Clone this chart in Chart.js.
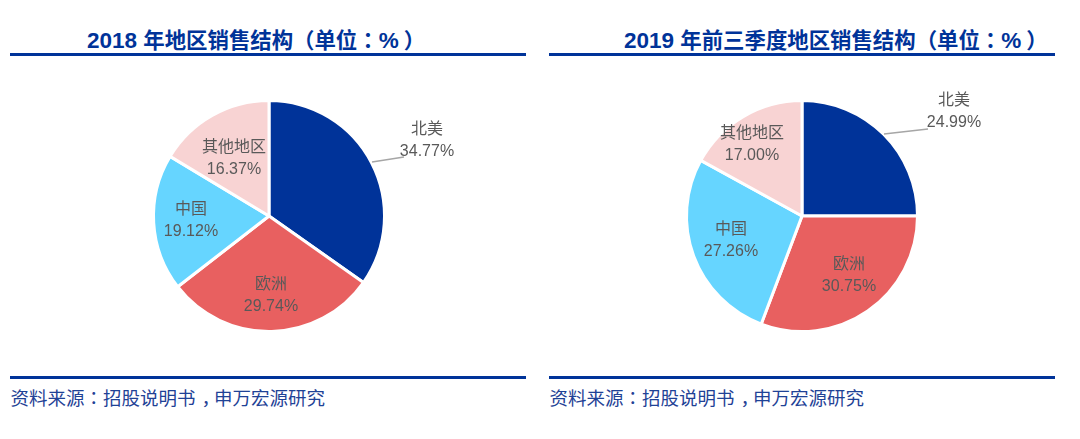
<!DOCTYPE html>
<html>
<head>
<meta charset="utf-8">
<script src="https://cdn.jsdelivr.net/npm/chart.js@4"></script>
<style>
  body { margin: 0; background: #fff; width: 1080px; height: 439px; overflow: hidden; position: relative; font-family: "Noto Sans CJK SC", sans-serif; }
  .title { position: absolute; top: 23px; white-space: nowrap; font-size: 21.4px; line-height: 32px; font-weight: 700; color: #003399; font-family: "Noto Sans CJK SC", sans-serif; }
  .n { font-family: "Liberation Sans", sans-serif; font-size: 22.5px; }
  .rule { position: absolute; height: 2.5px; background: #003399; }
  .source { position: absolute; top: 384px; white-space: nowrap; font-size: 18.5px; line-height: 26px; color: #1f4296; }
  .box { position: absolute; top: 86px; width: 400px; height: 260px; }
  /* centred full-width punctuation, as in the original */
  .p { font-family: "Noto Sans CJK TC", sans-serif; }
  .e { position: relative; left: 5px; }
  .c { position: relative; left: 6px; }
</style>
</head>
<body>
<div class="title" style="left:87px"><span class="n">2018 </span>年地区销售结构<span class="p">（</span>单位<span class="p">：</span><span class="n">%</span><span class="p e">）</span></div>
<div class="rule" style="left:10px;width:516px;top:53px"></div>
<div class="box" style="left:69px"><canvas id="chart-1" width="400" height="260"></canvas></div>
<div class="rule" style="left:10px;width:516px;top:376px"></div>
<div class="source" style="left:10.5px">资料来源<span class="p">：</span>招股说明书<span class="c">，</span>申万宏源研究</div>

<div class="title" style="left:624px"><span class="n">2019 </span>年前三季度地区销售结构<span class="p">（</span>单位<span class="p">：</span><span class="n">%</span><span class="p e">）</span></div>
<div class="rule" style="left:549px;width:506px;top:53px"></div>
<div class="box" style="left:602px"><canvas id="chart-2" width="400" height="260"></canvas></div>
<div class="rule" style="left:549px;width:506px;top:376px"></div>
<div class="source" style="left:549.5px">资料来源<span class="p">：</span>招股说明书<span class="c">，</span>申万宏源研究</div>

<script>
const $ = (element) => {
  return document.querySelector(element)
}

const labels = ['北美', '欧洲', '中国', '其他地区']
const colors = ['#003399', '#E86060', '#66D5FF', '#F8D3D3']

// label places are offsets from the pie centre, per slice
const sales2018 = {
  data: [34.77, 29.74, 19.12, 16.37],
  places: [[158, -75], [2, 80], [-78, 5], [-35, -57]],
  leader: [[103, -54], [135, -59]]
}
const sales2019 = {
  data: [24.99, 30.75, 27.26, 17.00],
  places: [[152, -104], [47, 60], [-71, 25], [-50, -71]],
  leader: [[82, -82], [126, -87]]
}

const sliceLabels = {
  id: 'sliceLabels',
  afterDatasetsDraw(chart, args, opts) {
    const ctx = chart.ctx
    const arc = chart.getDatasetMeta(0).data[0]
    const cx = arc.x
    const cy = arc.y
    ctx.save()
    ctx.strokeStyle = '#a6a6a6'
    ctx.lineWidth = 1.5
    ctx.beginPath()
    ctx.moveTo(cx + opts.leader[0][0], cy + opts.leader[0][1])
    ctx.lineTo(cx + opts.leader[1][0], cy + opts.leader[1][1])
    ctx.stroke()
    ctx.fillStyle = '#595959'
    ctx.textAlign = 'center'
    ctx.textBaseline = 'middle'
    ctx.font = '16px "Liberation Sans", "Noto Sans CJK SC", sans-serif'
    chart.data.datasets[0].data.forEach((v, i) => {
      const p = opts.places[i]
      ctx.fillText(chart.data.labels[i], cx + p[0], cy + p[1] - 11)
      ctx.fillText(v.toFixed(2) + '%', cx + p[0], cy + p[1] + 11)
    })
    ctx.restore()
  }
}

const drawPie = (el, sales) => {
  new Chart(el, {
    type: 'pie',
    data: {
      labels: labels,
      datasets: [{
        data: sales.data,
        backgroundColor: colors,
        borderColor: '#fff',
        borderWidth: 3
      }]
    },
    options: {
      responsive: false,
      animation: false,
      radius: 115.5,
      plugins: {
        legend: { display: false },
        tooltip: { enabled: false },
        sliceLabels: { places: sales.places, leader: sales.leader }
      }
    },
    plugins: [sliceLabels]
  })
}

drawPie($('#chart-1'), sales2018)
drawPie($('#chart-2'), sales2019)
</script>
</body>
</html>
